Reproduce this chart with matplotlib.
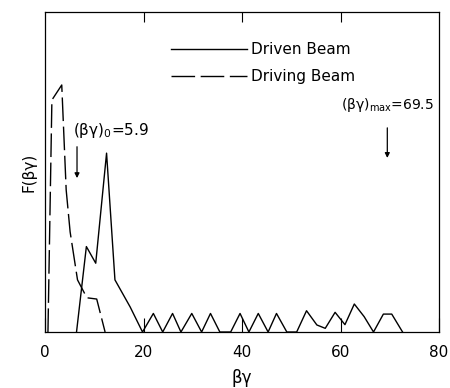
import matplotlib
matplotlib.use("Agg")
import matplotlib.pyplot as plt

# Driving beam (dashed)
driving_x = [0.6, 1.4, 3.4, 4.3, 5.1, 6.6, 8.5, 10.5, 12.2]
driving_y = [0, 72.5, 77.2, 44.4, 31.3, 16.3, 10.7, 10.3, 0]

# Driven beam (solid)
driven_x = [6.4, 8.4, 10.3, 12.5, 14.2, 17.3, 19.8, 22.0, 23.9, 25.9, 27.6, 29.8,
            31.8, 33.6, 35.5, 37.7, 39.6, 41.4, 43.3, 45.3, 47.0, 49.1, 51.1, 53.1,
            55.2, 56.9, 58.9, 60.9, 62.8, 64.8, 66.7, 68.7, 70.4, 72.6]
driven_y = [0, 26.7, 21.5, 55.9, 16.3, 7.8, 0, 5.8, 0, 5.8, 0, 5.8,
            0, 5.8, 0, 0, 5.8, 0, 5.8, 0, 5.8, 0, 0, 6.65,
            2.2, 1.15, 6.15, 2.3, 8.75, 4.8, 0, 5.6, 5.6, 0]

xticks = [0, 20, 40, 60, 80]
xtick_labels = ["0", "20", "40", "60", "80"]

arrow_x = [6.5, 69.5]
arrow_top = [57.9, 63.8]
arrow_bottom = [48.1, 54.4]
ann_text = [r"(βγ)$_{\rm 0}$=5.9", r"(βγ)$_{\rm max}$=69.5"]
ann_x = [13.5, 69.6]
ann_y = [63.1, 70.9]
ann_size = [11, 10]

fig = plt.figure(figsize=(4.5, 3.88), dpi=100)
ax = fig.add_axes([0.1, 0.1443, 0.8756, 0.8247])

ax.plot(driven_x, driven_y, color="black", lw=1.0, label="Driven Beam")
ax.plot(driving_x, driving_y, color="black", lw=1.0, linestyle=(0, (17, 4)),
        label="Driving Beam")

ax.set_xlim(0, 80)
ax.set_ylim(0, 100)
ax.set_xticks(xticks)
ax.set_xticklabels(xtick_labels, fontsize=11)
ax.set_yticks([])
ax.tick_params(axis="x", direction="in", length=10, width=0.8, pad=9, bottom=True, top=False)
# top ticks (shorter, no labels)
sec = ax.secondary_xaxis("top")
sec.set_xticks(xticks[1:-1])
sec.tick_params(direction="in", length=7, width=0.8, labeltop=False)

for s in ax.spines.values():
    s.set_linewidth(0.9)
for s in sec.spines.values():
    s.set_visible(False)

ax.set_xlabel("βγ", fontsize=12, labelpad=7)
ax.set_ylabel("F(βγ)", fontsize=11, labelpad=6)

for xa, yt, yb in zip(arrow_x, arrow_top, arrow_bottom):
    ax.annotate("", xy=(xa, yb), xytext=(xa, yt),
                arrowprops=dict(arrowstyle="-|>", color="black", lw=0.9,
                                mutation_scale=7, shrinkA=0, shrinkB=0))
for t, x, y, fs in zip(ann_text, ann_x, ann_y, ann_size):
    ax.text(x, y, t, fontsize=fs, ha="center", va="center")

ax.legend(loc="upper left", bbox_to_anchor=(0.32, 0.905), frameon=False,
          fontsize=11, handlelength=5.0, handletextpad=0.25, borderpad=0,
          labelspacing=0.75, borderaxespad=0)

fig.savefig("out.png", dpi=100)
